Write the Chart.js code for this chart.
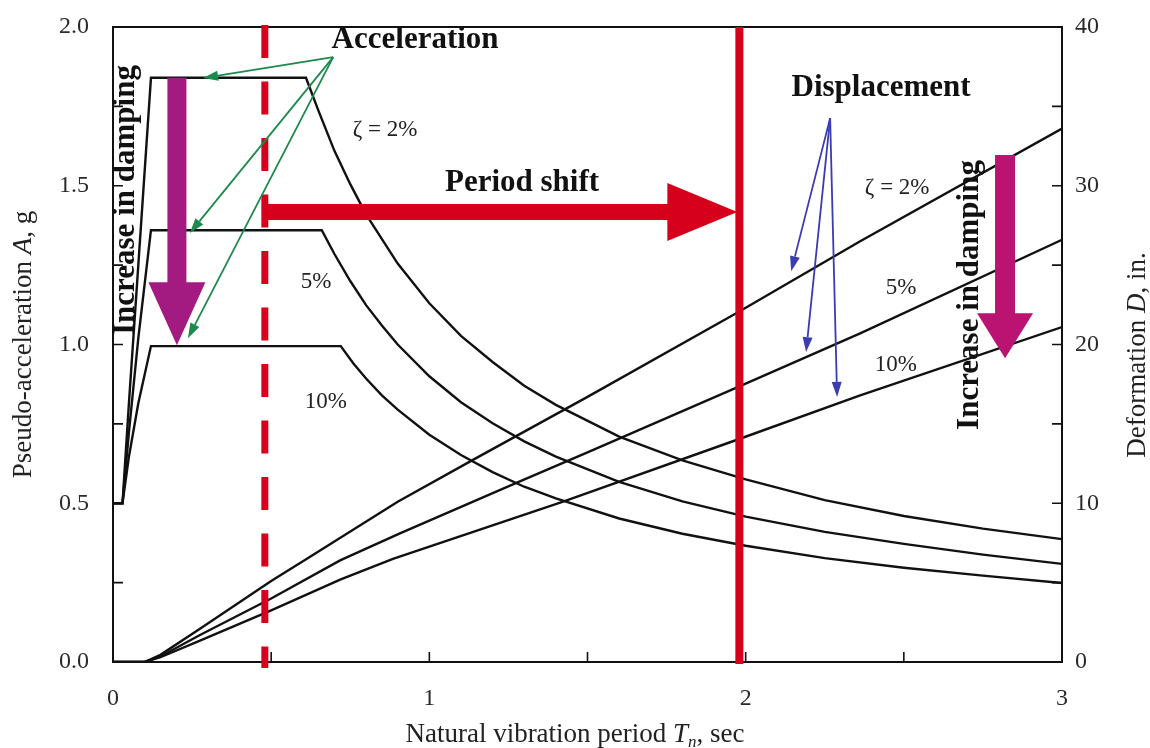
<!DOCTYPE html>
<html>
<head>
    <title>Pseudo-acceleration and deformation spectra</title>
    <script src="https://cdn.jsdelivr.net/npm/chart.js@4.4.0/dist/chart.umd.min.js"></script>
    <style>
        html, body { margin: 0; padding: 0; background: #fff; }
        .chart-container { position: relative; width: 1150px; height: 748px; }
    </style>
</head>
<body>
    <div class="chart-container">
        <canvas id="spectrumChart"></canvas>
    </div>

    <script>
        // pseudo-acceleration A (g) vs natural period Tn (sec)
        const accPeriod2 = [0, 0.03, 0.05, 0.08, 0.12, 0.61, 0.65, 0.7, 0.75, 0.8, 0.9, 1.0, 1.1, 1.2, 1.3, 1.4, 1.6, 1.8, 2.0, 2.25, 2.5, 2.75, 3.0];
        const acc2 = [0.5, 0.5, 0.81, 1.25, 1.84, 1.84, 1.735, 1.61, 1.505, 1.41, 1.255, 1.13, 1.027, 0.945, 0.87, 0.81, 0.71, 0.635, 0.575, 0.51, 0.46, 0.42, 0.387];
        const accPeriod5 = [0, 0.03, 0.05, 0.08, 0.12, 0.66, 0.7, 0.75, 0.8, 0.85, 0.9, 1.0, 1.1, 1.2, 1.3, 1.4, 1.6, 1.8, 2.0, 2.25, 2.5, 2.75, 3.0];
        const acc5 = [0.5, 0.5, 0.72, 1.02, 1.36, 1.36, 1.285, 1.2, 1.124, 1.06, 1.0, 0.9, 0.818, 0.752, 0.695, 0.647, 0.567, 0.506, 0.458, 0.41, 0.372, 0.338, 0.309];
        const accPeriod10 = [0, 0.03, 0.05, 0.08, 0.12, 0.72, 0.76, 0.8, 0.85, 0.9, 1.0, 1.1, 1.2, 1.3, 1.4, 1.6, 1.8, 2.0, 2.25, 2.5, 2.75, 3.0];
        const acc10 = [0.5, 0.5, 0.645, 0.815, 0.995, 0.995, 0.94, 0.893, 0.84, 0.795, 0.716, 0.652, 0.598, 0.552, 0.515, 0.452, 0.404, 0.366, 0.327, 0.297, 0.272, 0.249];

        // deformation D (in.) vs natural period
        const defPeriod2 = [0, 0.1, 0.15, 0.275, 0.5, 0.613, 0.9, 1.135, 1.5, 1.973, 2.362, 3.0];
        const def2 = [0, 0, 0.45, 2.1, 5.1, 6.5, 10.1, 12.7, 16.7, 22.0, 26.5, 33.6];
        const defPeriod5 = [0, 0.1, 0.15, 0.275, 0.5, 0.718, 0.907, 1.277, 1.5, 1.973, 2.362, 3.0];
        const def5 = [0, 0, 0.35, 1.7, 4.0, 6.4, 8.1, 11.3, 13.2, 17.3, 20.7, 26.6];
        const defPeriod10 = [0, 0.1, 0.15, 0.275, 0.5, 0.72, 0.885, 1.423, 1.973, 2.362, 3.0];
        const def10 = [0, 0, 0.3, 1.35, 3.25, 5.2, 6.5, 10.1, 14.0, 16.8, 21.1];

        // labelled tick values
        const periodLabels = [0, 1, 2, 3];
        const accLabels = [0, 0.5, 1.0, 1.5, 2.0];
        const defLabels = [0, 10, 20, 30, 40];

        // periods before / after isolation
        const periodOriginal = 0.48;
        const periodShifted = 1.98;

        const SERIF = '"Liberation Serif", "Times New Roman", serif';
        const RED = '#d6001c';

        const isLabel = (list, v) => list.some(t => Math.abs(t - v) < 1e-6);

        function curve(label, xs, ys, axis) {
            return {
                label: label,
                data: xs.map((x, i) => ({ x: x, y: ys[i] })),
                yAxisID: axis,
                borderColor: '#111',
                borderWidth: 2.4,
                pointRadius: 0,
                tension: 0,
                fill: false
            };
        }

        function lineArrow(ctx, x0, y0, x1, y1, color, width, headLen, headHalf) {
            const ang = Math.atan2(y1 - y0, x1 - x0);
            const c = Math.cos(ang), s = Math.sin(ang);
            const bx = x1 - headLen * c, by = y1 - headLen * s;
            ctx.strokeStyle = color;
            ctx.fillStyle = color;
            ctx.lineWidth = width;
            ctx.beginPath();
            ctx.moveTo(x0, y0);
            ctx.lineTo(bx, by);
            ctx.stroke();
            ctx.beginPath();
            ctx.moveTo(x1, y1);
            ctx.lineTo(bx + headHalf * s, by - headHalf * c);
            ctx.lineTo(bx - headHalf * s, by + headHalf * c);
            ctx.closePath();
            ctx.fill();
        }

        function blockArrow(ctx, x0, y0, x1, y1, shaftHalf, headLen, headHalf, color) {
            const len = Math.hypot(x1 - x0, y1 - y0);
            const ux = (x1 - x0) / len, uy = (y1 - y0) / len;
            const nx = -uy, ny = ux;
            const bx = x1 - ux * headLen, by = y1 - uy * headLen;
            ctx.fillStyle = color;
            ctx.beginPath();
            ctx.moveTo(x0 + nx * shaftHalf, y0 + ny * shaftHalf);
            ctx.lineTo(bx + nx * shaftHalf, by + ny * shaftHalf);
            ctx.lineTo(bx + nx * headHalf, by + ny * headHalf);
            ctx.lineTo(x1, y1);
            ctx.lineTo(bx - nx * headHalf, by - ny * headHalf);
            ctx.lineTo(bx - nx * shaftHalf, by - ny * shaftHalf);
            ctx.lineTo(x0 - nx * shaftHalf, y0 - ny * shaftHalf);
            ctx.closePath();
            ctx.fill();
        }

        // text made of pieces with their own font, centred on (cx, cy), optionally rotated
        function richText(ctx, parts, cx, cy, rot) {
            ctx.save();
            ctx.translate(cx, cy);
            if (rot) ctx.rotate(rot);
            ctx.textBaseline = 'alphabetic';
            ctx.textAlign = 'left';
            let total = 0;
            parts.forEach(p => { ctx.font = p.font; total += ctx.measureText(p.text).width; });
            let x = -total / 2;
            parts.forEach(p => {
                ctx.font = p.font;
                ctx.fillStyle = p.color || '#222';
                ctx.fillText(p.text, x, p.dy || 0);
                x += ctx.measureText(p.text).width;
            });
            ctx.restore();
        }

        const spectrumAnnotations = {
            id: 'spectrumAnnotations',
            afterDatasetsDraw(chart) {
                const { ctx, chartArea: a, scales } = chart;
                const px = t => scales.x.getPixelForValue(t);
                const py = v => scales.y.getPixelForValue(v);
                ctx.save();

                // frame with inward ticks
                ctx.strokeStyle = '#111';
                ctx.lineWidth = 2;
                ctx.strokeRect(a.left, a.top, a.right - a.left, a.bottom - a.top);
                ctx.lineWidth = 1.6;
                ctx.beginPath();
                scales.x.ticks.forEach(t => {
                    if (t.value <= 0 || t.value >= 3) return;
                    const xx = px(t.value);
                    ctx.moveTo(xx, a.bottom); ctx.lineTo(xx, a.bottom - 10);
                });
                scales.y.ticks.forEach(t => {
                    if (t.value <= 0 || t.value >= 2) return;
                    const yy = py(t.value);
                    ctx.moveTo(a.left, yy); ctx.lineTo(a.left + 10, yy);
                });
                scales.y2.ticks.forEach(t => {
                    if (t.value <= 0 || t.value >= 40) return;
                    const yy = scales.y2.getPixelForValue(t.value);
                    ctx.moveTo(a.right, yy); ctx.lineTo(a.right - 10, yy);
                });
                ctx.stroke();

                // original period (dashed) and shifted period (solid)
                ctx.strokeStyle = RED;
                ctx.lineWidth = 7;
                ctx.setLineDash([33, 23.5]);
                ctx.beginPath();
                ctx.moveTo(px(periodOriginal), a.top - 2);
                ctx.lineTo(px(periodOriginal), a.bottom + 6);
                ctx.stroke();
                ctx.setLineDash([]);
                ctx.lineWidth = 8;
                ctx.beginPath();
                ctx.moveTo(px(periodShifted), a.top);
                ctx.lineTo(px(periodShifted), a.bottom + 2);
                ctx.stroke();

                // period shift arrow
                blockArrow(ctx, px(periodOriginal), py(1.417), px(periodShifted) - 2, py(1.417), 8, 70, 29, RED);

                // increase in damping arrows
                blockArrow(ctx, px(0.202), py(1.84), px(0.202), py(0.998), 9.5, 63, 28.5, '#a31a80');
                blockArrow(ctx, px(2.82), py(1.597), px(2.82), py(0.957), 10, 45, 28, '#bb1372');

                // acceleration pointers
                const gx = px(0.696), gy = py(1.905);
                [[0.285, 1.839], [0.243, 1.351], [0.237, 1.02]].forEach(p => {
                    lineArrow(ctx, gx, gy, px(p[0]), py(p[1]), '#1b8a4c', 1.8, 15, 5);
                });
                // displacement pointers
                const bx = px(2.267), by = py(1.713);
                [[2.144, 1.231], [2.191, 0.976], [2.289, 0.835]].forEach(p => {
                    lineArrow(ctx, bx, by, px(p[0]), py(p[1]), '#3c3cb2', 1.8, 15, 5);
                });

                // bold annotations
                ctx.fillStyle = '#111';
                ctx.textAlign = 'center';
                ctx.textBaseline = 'middle';
                ctx.font = 'bold 31px ' + SERIF;
                ctx.fillText('Acceleration', px(0.955), py(1.959));
                ctx.fillText('Displacement', px(2.428), py(1.808));
                ctx.fillText('Period shift', px(1.293), py(1.509));
                [[0.067, 1.455], [2.736, 1.156]].forEach(p => {
                    ctx.save();
                    ctx.translate(px(p[0]), py(p[1]));
                    ctx.rotate(-Math.PI / 2);
                    ctx.textBaseline = 'alphabetic';
                    ctx.fillText('Increase in damping', 0, 0);
                    ctx.restore();
                });

                // damping labels
                ctx.font = '23px ' + SERIF;
                ctx.fillStyle = '#222';
                ctx.fillText('\u03B6 = 2%', px(0.86), py(1.676));
                ctx.fillText('5%', px(0.642), py(1.197));
                ctx.fillText('10%', px(0.673), py(0.819));
                ctx.fillText('\u03B6 = 2%', px(2.479), py(1.493));
                ctx.fillText('5%', px(2.491), py(1.178));
                ctx.fillText('10%', px(2.475), py(0.935));

                ctx.restore();
            },
            afterDraw(chart) {
                const { ctx, chartArea: a } = chart;
                const f = '27px ' + SERIF, fi = 'italic 27px ' + SERIF;
                richText(ctx, [
                    { text: 'Natural vibration period ', font: f },
                    { text: 'T', font: fi },
                    { text: 'n', font: 'italic 17px ' + SERIF, dy: 5 },
                    { text: ', sec', font: f }
                ], 575, 742, 0);
                richText(ctx, [
                    { text: 'Pseudo-acceleration ', font: f },
                    { text: 'A', font: fi },
                    { text: ', g', font: f }
                ], 31, (a.top + a.bottom) / 2, -Math.PI / 2);
                richText(ctx, [
                    { text: 'Deformation ', font: f },
                    { text: 'D', font: fi },
                    { text: ', in.', font: f }
                ], 1145, 355, -Math.PI / 2);
            }
        };

        const tickFont = { family: SERIF, size: 24 };

        new Chart(document.getElementById('spectrumChart'), {
            type: 'line',
            data: {
                datasets: [
                    curve('A, 2%', accPeriod2, acc2, 'y'),
                    curve('A, 5%', accPeriod5, acc5, 'y'),
                    curve('A, 10%', accPeriod10, acc10, 'y'),
                    curve('D, 2%', defPeriod2, def2, 'y2'),
                    curve('D, 5%', defPeriod5, def5, 'y2'),
                    curve('D, 10%', defPeriod10, def10, 'y2')
                ]
            },
            options: {
                responsive: true,
                maintainAspectRatio: false,
                animation: false,
                layout: { padding: { top: 27, left: 0, right: 0, bottom: 0 } },
                plugins: {
                    legend: { display: false },
                    tooltip: { enabled: false }
                },
                scales: {
                    x: {
                        type: 'linear',
                        min: 0,
                        max: 3,
                        grid: { display: false, drawTicks: false },
                        border: { display: false },
                        ticks: {
                            stepSize: 0.5,
                            autoSkip: false,
                            maxRotation: 0,
                            padding: 22,
                            color: '#2a2a2a',
                            font: tickFont,
                            callback: v => isLabel(periodLabels, v) ? String(v) : ''
                        },
                        afterFit: s => { s.height = 86; }
                    },
                    y: {
                        position: 'left',
                        min: 0,
                        max: 2,
                        grid: { display: false, drawTicks: true, tickLength: 12 },
                        border: { display: false },
                        ticks: {
                            stepSize: 0.25,
                            autoSkip: false,
                            padding: 12,
                            color: '#2a2a2a',
                            font: tickFont,
                            callback: v => isLabel(accLabels, v) ? v.toFixed(1) : ''
                        },
                        afterFit: s => { s.width = 113; }
                    },
                    y2: {
                        position: 'right',
                        min: 0,
                        max: 40,
                        grid: { display: false, drawTicks: true, tickLength: 2 },
                        border: { display: false },
                        ticks: {
                            stepSize: 5,
                            autoSkip: false,
                            padding: 11,
                            color: '#2a2a2a',
                            font: tickFont,
                            callback: v => isLabel(defLabels, v) ? String(v) : ''
                        },
                        afterFit: s => { s.width = 88; }
                    }
                }
            },
            plugins: [spectrumAnnotations]
        });
    </script>
</body>
</html>
